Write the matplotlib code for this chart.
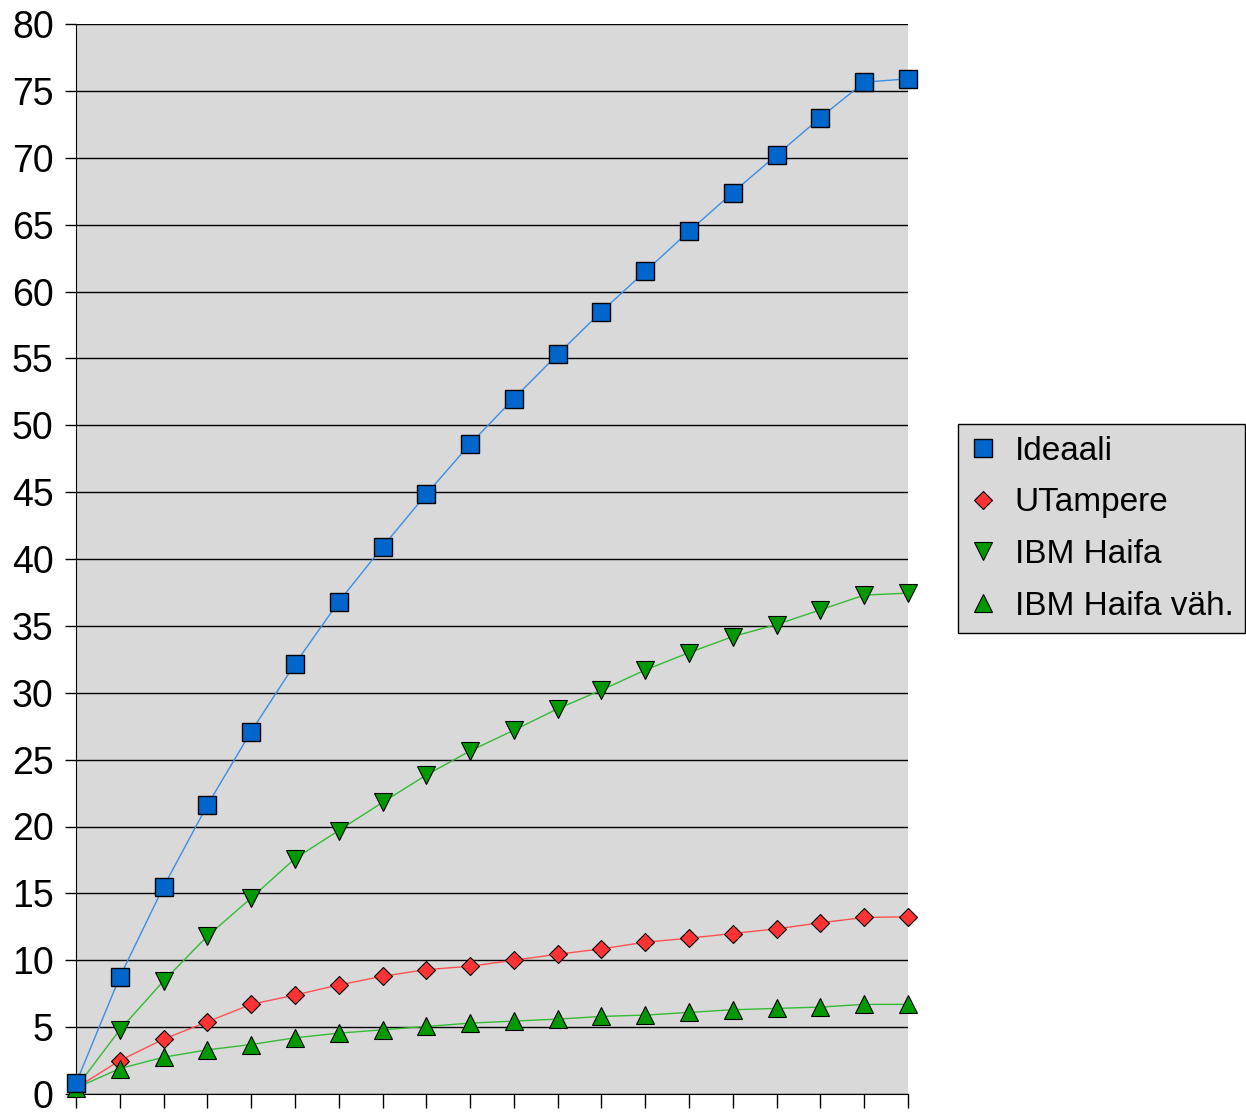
import numpy as np
import matplotlib.pyplot as plt

plt.rcParams['font.family'] = ['Liberation Sans', 'DejaVu Sans']

steps = list(range(20))
ideaali = [0.8, 8.75, 15.5, 21.6, 27.1, 32.15, 36.8, 40.9, 44.85, 48.6,
           52.0, 55.3, 58.5, 61.5, 64.5, 67.4, 70.2, 73.0, 75.65, 75.9]
utampere = [0.45, 2.5, 4.1, 5.4, 6.7, 7.4, 8.15, 8.8, 9.3, 9.55,
            10.0, 10.45, 10.85, 11.35, 11.65, 12.0, 12.35, 12.8, 13.2, 13.25]
ibm_haifa = [0.45, 4.8, 8.45, 11.8, 14.65, 17.6, 19.7, 21.8, 23.85, 25.65,
             27.2, 28.8, 30.2, 31.7, 33.0, 34.2, 35.1, 36.2, 37.3, 37.45]
ibm_haifa_vah = [0.45, 1.9, 2.75, 3.3, 3.7, 4.2, 4.55, 4.8, 5.05, 5.3,
                 5.45, 5.6, 5.8, 5.9, 6.1, 6.3, 6.4, 6.5, 6.7, 6.7]

fig = plt.figure(figsize=(12.46, 11.12), dpi=100)
ax = fig.add_axes([76/1246, 18/1112, 832/1246, 1070/1112])
ax.set_facecolor('#d9d9d9')

ax.plot(steps, ideaali, color='#3a8ee6', lw=1, marker='s', ms=12.5,
        mfc='#0066cc', mec='black', mew=1, label='Ideaali', clip_on=False, zorder=5)
ax.plot(steps, utampere, color='#ff5050', lw=1, marker='D', ms=9,
        mfc='#ff3333', mec='black', mew=0.8, label='UTampere', clip_on=False, zorder=4)
ax.plot(steps, ibm_haifa, color='#33bb33', lw=1, marker='v', ms=13,
        mfc='#009900', mec='black', mew=0.8, label='IBM Haifa', clip_on=False, zorder=4)
ax.plot(steps, ibm_haifa_vah, color='#33bb33', lw=1, marker='^', ms=13,
        mfc='#009900', mec='black', mew=0.8, label='IBM Haifa väh.', clip_on=False, zorder=4)

ax.set_xlim(0, 19)
ax.set_ylim(0, 80)
ax.set_yticks(np.arange(0, 81, 5))
ax.set_xticks(steps)
ax.set_xticklabels([])
ax.yaxis.grid(True, color='black', lw=1)
ax.set_axisbelow(True)
ax.tick_params(axis='y', labelsize=27, length=8, width=1, pad=8)
ax.tick_params(axis='x', length=10, width=1, direction='out')
for s in ['top', 'right']:
    ax.spines[s].set_visible(False)

leg = fig.legend(loc='upper right', bbox_to_anchor=(1245/1246, 1 - 424/1112),
                 fontsize=24, frameon=True, fancybox=False, edgecolor='black',
                 facecolor='#d9d9d9', framealpha=1, handlelength=0.8,
                 handletextpad=0.55, borderpad=0.35, labelspacing=0.62,
                 borderaxespad=0)
leg.get_frame().set_linewidth(1)
for h in leg.legend_handles:
    h.set_linestyle('none')

fig.savefig('out.png', dpi=100)
